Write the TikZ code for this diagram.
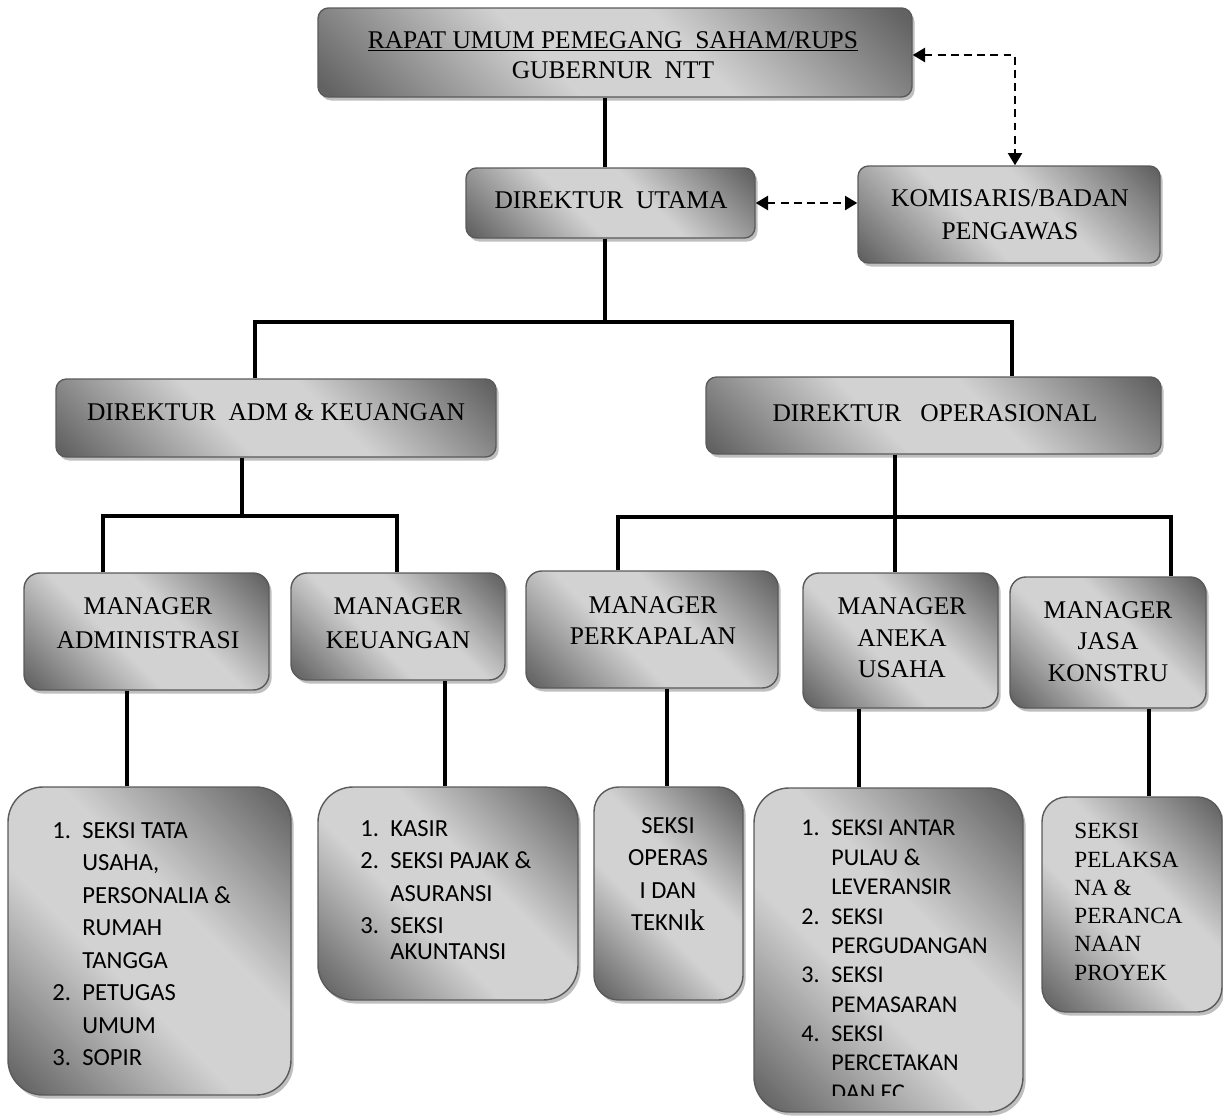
\documentclass[tikz,border=0pt]{standalone}
\usepackage{fontspec}
\setmainfont{Liberation Serif}
\newfontfamily\carlito{Carlito}
\usetikzlibrary{arrows.meta}
\usetikzlibrary{shadows}
\definecolor{shadedark}{HTML}{626262}
\definecolor{shadelight}{HTML}{D2D2D2}
\definecolor{edgegray}{HTML}{5A5A5A}
\pgfdeclareverticalshading{orgshade}{100bp}{color(0bp)=(shadedark); color(16bp)=(shadedark); color(42bp)=(shadelight); color(58bp)=(shadelight); color(84bp)=(shadedark); color(100bp)=(shadedark)}
\newcommand{\lnum}[1]{\makebox[0.6cm][l]{#1}}
\newcommand{\lhang}{\hspace*{0.6cm}}
\tikzset{
  orgbox/.style={draw=edgegray, line width=0.8pt, rounded corners=6pt, inner sep=0pt,
    shading=orgshade, shading angle=-45,
    drop shadow={shadow xshift=1.5pt, shadow yshift=-2pt, fill=black, opacity=0.25}},
  sz/.style 2 args={minimum width=#1*0.02cm, minimum height=#2*0.02cm},
  title/.style={font=\fontsize{14.5}{18}\selectfont, align=center, inner sep=0pt},
  listtext/.style={font=\carlito\fontsize{14}{18.5}\selectfont, align=left, inner sep=0pt, anchor=north west},
  link/.style={line width=2.8pt},
  dasharrow/.style={line width=1.3pt, dash pattern=on 4.5pt off 3pt,
    {Triangle[length=7pt,width=8pt]}-{Triangle[length=7pt,width=8pt]}}
}
\begin{document}
\begin{tikzpicture}[x=0.02cm,y=-0.02cm]
\useasboundingbox (0,0) rectangle (1223,1119);

\node[orgbox, sz={594}{89}] (rups) at (615,52.5) {};
\node[orgbox, sz={289}{70}] (dirut) at (610.5,203) {};
\node[orgbox, sz={302}{97}] (komis) at (1009,214.5) {};
\node[orgbox, sz={440}{78}] (diradm) at (276,418) {};
\node[orgbox, sz={455}{77}] (dirops) at (933.5,415.5) {};

\node[orgbox, rounded corners=9pt, sz={245}{117}] (mgradm) at (146.5,631.5) {};
\node[orgbox, rounded corners=9pt, sz={214}{107}] (mgrkeu) at (398,626.5) {};
\node[orgbox, rounded corners=9pt, sz={252}{117}] (mgrkap) at (652,629.5) {};
\node[orgbox, rounded corners=9pt, sz={195}{135}] (mgrusaha) at (900.5,640.5) {};
\node[orgbox, rounded corners=9pt, sz={196}{131}] (mgrjasa) at (1108,642.5) {};

\node[orgbox, rounded corners=20pt, sz={283}{308}] (lstadm) at (149.5,941) {};
\node[orgbox, rounded corners=20pt, sz={260}{213}] (lstkeu) at (448,893.5) {};
\node[orgbox, rounded corners=14pt, sz={149}{213}] (lstkap) at (668.5,893.5) {};
\node[orgbox, rounded corners=20pt, sz={269}{324}] (lstusaha) at (888.5,950) {};
\node[orgbox, rounded corners=14pt, sz={180}{215}] (lstjasa) at (1132,904.5) {};

\node[title, font=\fontsize{14.5}{17.3}\selectfont] (rupstxt) at (613,55) {\underline{RAPAT UMUM PEMEGANG\ \ SAHAM/RUPS}\\GUBERNUR\ \ NTT};
\node[title] (duttxt) at (611,200.5) {DIREKTUR\ \ UTAMA};
\node[title, font=\fontsize{14.5}{19}\selectfont] (komtxt) at (1010,215) {KOMISARIS/BADAN\\PENGAWAS};
\node[title] (admtxt) at (276,412.5) {DIREKTUR\ \ ADM \& KEUANGAN};
\node[title] (opstxt) at (935,413.5) {DIREKTUR\ \ \ OPERASIONAL};

\node[title, font=\fontsize{14.5}{19}\selectfont] (madmtxt) at (148,623) {MANAGER\\ADMINISTRASI};
\node[title, font=\fontsize{14.5}{19}\selectfont] (mkeutxt) at (398,623) {MANAGER\\KEUANGAN};
\node[title] (mkaptxt) at (653,620.5) {MANAGER\\PERKAPALAN};
\node[title] (musahatxt) at (902,638) {MANAGER\\ANEKA\\USAHA};
\node[title] (mjasatxt) at (1108,641.5) {MANAGER\\JASA\\KONSTRU};

\node[listtext] (txtadm) at (52,822) {\lnum{1.}SEKSI TATA\\ \lhang USAHA,\\ \lhang PERSONALIA\ \&\\ \lhang RUMAH\\ \lhang TANGGA\\ \lnum{2.}PETUGAS\\ \lhang UMUM\\ \lnum{3.}SOPIR};
\node[listtext] (txtkeu) at (360,820) {\lnum{1.}KASIR\\ \lnum{2.}SEKSI PAJAK\ \&\\ \lhang ASURANSI\\ \lnum{3.}SEKSI\\[-3.8pt] \lhang AKUNTANSI};
\node[listtext, align=center, anchor=north] (txtkap) at (668,817) {SEKSI\\OPERAS\\I DAN\\TEKNI{\rmfamily\fontsize{17}{18}\selectfont k}};
\begin{scope}
\clip (754,788) rectangle (1023,1095);
\node[listtext, font=\carlito\fontsize{13.7}{16.7}\selectfont] (txtusaha) at (801,820) {\lnum{1.}SEKSI ANTAR\\ \lhang PULAU \&\\ \lhang LEVERANSIR\\ \lnum{2.}SEKSI\\ \lhang PERGUDANGAN\\ \lnum{3.}SEKSI\\ \lhang PEMASARAN\\ \lnum{4.}SEKSI\\ \lhang PERCETAKAN\\ \lhang DAN EC};
\end{scope}
\node[listtext, font=\fontsize{13.2}{16.1}\selectfont] (txtjasa) at (1074,823) {SEKSI\\PELAKSA\\NA \&\\PERANCA\\NAAN\\PROYEK};

\coordinate (b1l) at (255,322);
\coordinate (b1m) at (605,322);
\coordinate (b1r) at (1012,322);
\draw[link] (rups.south -| b1m) -- (dirut.north -| b1m);
\draw[link] (dirut.south -| b1m) -- (b1m);
\draw[link] (diradm.north -| b1l) -- (b1l) -- (b1r) -- (dirops.north -| b1r);

\coordinate (b2l) at (103,516);
\coordinate (b2m) at (242,516);
\coordinate (b2r) at (397,516);
\draw[link] (diradm.south -| b2m) -- (b2m);
\draw[link] (mgradm.north -| b2l) -- (b2l) -- (b2r) -- (mgrkeu.north -| b2r);

\coordinate (b3l) at (618,517);
\coordinate (b3m) at (895,517);
\coordinate (b3r) at (1171,517);
\draw[link] (dirops.south -| b3m) -- (mgrusaha.north -| b3m);
\draw[link] (mgrkap.north -| b3l) -- (b3l) -- (b3r) -- (mgrjasa.north -| b3r);

\coordinate (k1) at (127,740);
\coordinate (k2) at (445,740);
\coordinate (k3) at (667,740);
\coordinate (k4) at (859,740);
\coordinate (k5) at (1149,740);
\draw[link] (mgradm.south -| k1) -- (lstadm.north -| k1);
\draw[link] (mgrkeu.south -| k2) -- (lstkeu.north -| k2);
\draw[link] (mgrkap.south -| k3) -- (lstkap.north -| k3);
\draw[link] (mgrusaha.south -| k4) -- (lstusaha.north -| k4);
\draw[link] (mgrjasa.south -| k5) -- (lstjasa.north -| k5);

\coordinate (d1) at (1015,55);
\draw[dasharrow] (rups.east |- d1) -- (d1) -- (d1 |- komis.north);
\draw[dasharrow] (dirut.east) -- (dirut.east -| komis.west);

\end{tikzpicture}
\end{document}
